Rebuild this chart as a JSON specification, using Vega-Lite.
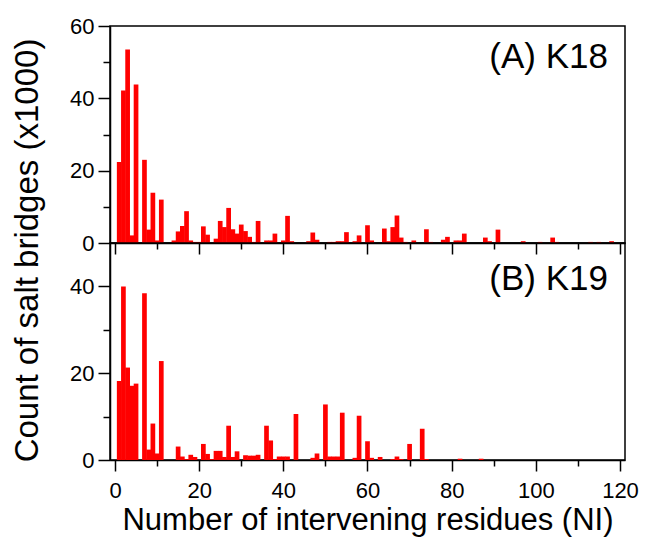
{
  "$schema": "https://vega.github.io/schema/vega-lite/v6.json",
  "autosize": {"type": "none"},
  "padding": {"left": 110, "top": 26, "right": 535, "bottom": 515},
  "bounds": "flush",
  "spacing": 0,
  "background": "white",
  "config": {
    "font": "Liberation Sans",
    "view": {"stroke": "#000", "strokeWidth": 1.5},
    "axis": {
      "domainColor": "#000", "domainWidth": 1.5,
      "tickColor": "#000", "tickWidth": 1.5,
      "labelColor": "#000", "titleColor": "#000",
      "labelFont": "Liberation Sans", "titleFont": "Liberation Sans",
      "labelFontSize": 22, "titleFontSize": 31, "titleFontWeight": "normal",
      "grid": false
    }
  },
  "datasets": {
    "k18": [
      {"NI": 1, "count": 22.4}, {"NI": 2, "count": 42.2}, {"NI": 3, "count": 53.5}, {"NI": 4, "count": 2.1},
      {"NI": 5, "count": 43.8}, {"NI": 7, "count": 23}, {"NI": 8, "count": 3.7}, {"NI": 9, "count": 13.9},
      {"NI": 10, "count": 0.7}, {"NI": 11, "count": 12}, {"NI": 14, "count": 0.7}, {"NI": 15, "count": 3.2},
      {"NI": 16, "count": 4.7}, {"NI": 17, "count": 8.8}, {"NI": 18, "count": 0.7}, {"NI": 19, "count": 0.3},
      {"NI": 20, "count": 0.3}, {"NI": 21, "count": 4.6}, {"NI": 22, "count": 2.3}, {"NI": 24, "count": 1.2},
      {"NI": 25, "count": 6.1}, {"NI": 26, "count": 4.4}, {"NI": 27, "count": 9.7}, {"NI": 28, "count": 3.8},
      {"NI": 29, "count": 2.6}, {"NI": 30, "count": 5.1}, {"NI": 31, "count": 3.3}, {"NI": 32, "count": 1.7},
      {"NI": 33, "count": 0.3}, {"NI": 34, "count": 6.1}, {"NI": 36, "count": 0.7}, {"NI": 37, "count": 0.7},
      {"NI": 38, "count": 2.6}, {"NI": 40, "count": 0.7}, {"NI": 41, "count": 7.5}, {"NI": 42, "count": 0.5},
      {"NI": 46, "count": 0.5}, {"NI": 47, "count": 2.9}, {"NI": 48, "count": 0.9}, {"NI": 51, "count": 0.3},
      {"NI": 52, "count": 0.3}, {"NI": 53, "count": 0.5}, {"NI": 54, "count": 0.5}, {"NI": 55, "count": 3.0},
      {"NI": 57, "count": 0.5}, {"NI": 58, "count": 2.1}, {"NI": 60, "count": 4.9}, {"NI": 61, "count": 0.7},
      {"NI": 64, "count": 4.0}, {"NI": 65, "count": 0.5}, {"NI": 66, "count": 4.4}, {"NI": 67, "count": 7.6},
      {"NI": 68, "count": 1.5}, {"NI": 69, "count": 0.3}, {"NI": 71, "count": 0.7}, {"NI": 74, "count": 3.8},
      {"NI": 75, "count": 0.3}, {"NI": 78, "count": 0.9}, {"NI": 79, "count": 1.7}, {"NI": 81, "count": 0.7},
      {"NI": 82, "count": 0.7}, {"NI": 83, "count": 2.6}, {"NI": 88, "count": 1.5}, {"NI": 89, "count": 0.5},
      {"NI": 91, "count": 3.7}, {"NI": 97, "count": 0.5}, {"NI": 101, "count": 0.3}, {"NI": 104, "count": 1.5},
      {"NI": 105, "count": 0.3}, {"NI": 113, "count": 0.3}, {"NI": 115, "count": 0.3}, {"NI": 118, "count": 0.5}
    ],
    "k19": [
      {"NI": 1, "count": 18.2}, {"NI": 2, "count": 40.0}, {"NI": 3, "count": 21.3}, {"NI": 4, "count": 17.1},
      {"NI": 5, "count": 17.6}, {"NI": 7, "count": 38.4}, {"NI": 8, "count": 2.4}, {"NI": 9, "count": 8.4},
      {"NI": 10, "count": 1.5}, {"NI": 11, "count": 22.8}, {"NI": 15, "count": 3.1}, {"NI": 16, "count": 0.8},
      {"NI": 17, "count": 0.2}, {"NI": 18, "count": 1.2}, {"NI": 19, "count": 0.7}, {"NI": 21, "count": 3.7},
      {"NI": 22, "count": 1.4}, {"NI": 23, "count": 0.2}, {"NI": 24, "count": 2.1}, {"NI": 25, "count": 2.1},
      {"NI": 26, "count": 0.7}, {"NI": 27, "count": 7.9}, {"NI": 28, "count": 0.7}, {"NI": 29, "count": 2.0},
      {"NI": 31, "count": 1.1}, {"NI": 32, "count": 1.0}, {"NI": 33, "count": 1.0}, {"NI": 34, "count": 1.2},
      {"NI": 36, "count": 7.9}, {"NI": 37, "count": 4.5}, {"NI": 38, "count": 0.2}, {"NI": 39, "count": 0.8},
      {"NI": 40, "count": 0.8}, {"NI": 41, "count": 0.8}, {"NI": 43, "count": 10.6}, {"NI": 47, "count": 0.5},
      {"NI": 48, "count": 1.5}, {"NI": 50, "count": 12.8}, {"NI": 51, "count": 0.8}, {"NI": 52, "count": 0.8},
      {"NI": 53, "count": 0.8}, {"NI": 54, "count": 10.9}, {"NI": 57, "count": 0.5}, {"NI": 58, "count": 10.2},
      {"NI": 60, "count": 4.3}, {"NI": 61, "count": 0.5}, {"NI": 63, "count": 0.7}, {"NI": 66, "count": 0.2},
      {"NI": 67, "count": 0.8}, {"NI": 68, "count": 0.2}, {"NI": 70, "count": 3.7}, {"NI": 73, "count": 7.2},
      {"NI": 74, "count": 0.2}, {"NI": 82, "count": 0.3}, {"NI": 87, "count": 0.3}
    ]
  },
  "vconcat": [
    {
      "width": 515,
      "height": 217,
      "data": {"name": "k18"},
      "title": {"text": "(A) K18", "anchor": "end", "orient": "top", "frame": "group", "offset": -42, "dy": 46, "baseline": "alphabetic", "dx": -17, "fontSize": 35, "fontWeight": "normal", "font": "Liberation Sans", "color": "#000"},
      "mark": {"type": "bar", "color": "#ff0000", "width": 4.7},
      "encoding": {
        "x": {
          "field": "NI", "type": "quantitative",
          "scale": {"domain": [0, 120], "nice": false},
          "axis": {
            "values": [0, 10, 20, 30, 40, 50, 60, 70, 80, 90, 100, 110, 120],
            "labels": false, "title": null,
            "tickSize": {"condition": {"test": "datum.value % 20 === 0", "value": 11}, "value": 6}
          }
        },
        "y": {
          "field": "count", "type": "quantitative",
          "scale": {"domain": [0, 60], "nice": false},
          "axis": {
            "values": [0, 10, 20, 30, 40, 50, 60],
            "labelExpr": "datum.value % 20 === 0 ? datum.label : ''",
            "tickSize": {"condition": {"test": "datum.value % 20 === 0", "value": 12}, "value": 7},
            "labelPadding": 4,
            "title": "Count of salt bridges (x1000)",
            "titleFontSize": 33,
            "titleY": 224,
            "titlePadding": 25
          }
        }
      }
    },
    {
      "width": 515,
      "height": 217,
      "data": {"name": "k19"},
      "title": {"text": "(B) K19", "anchor": "end", "orient": "top", "frame": "group", "offset": -50, "dy": 32, "baseline": "alphabetic", "dx": -17, "fontSize": 35, "fontWeight": "normal", "font": "Liberation Sans", "color": "#000"},
      "mark": {"type": "bar", "color": "#ff0000", "width": 4.7},
      "encoding": {
        "x": {
          "field": "NI", "type": "quantitative",
          "scale": {"domain": [0, 120], "nice": false},
          "axis": {
            "values": [0, 10, 20, 30, 40, 50, 60, 70, 80, 90, 100, 110, 120],
            "labelExpr": "datum.value % 20 === 0 ? datum.label : ''",
            "tickSize": {"condition": {"test": "datum.value % 20 === 0", "value": 11}, "value": 6},
            "labelPadding": 9,
            "title": "Number of intervening residues (NI)",
            "titlePadding": 4
          }
        },
        "y": {
          "field": "count", "type": "quantitative",
          "scale": {"domain": [0, 50], "nice": false},
          "axis": {
            "values": [0, 10, 20, 30, 40],
            "labelExpr": "datum.value % 20 === 0 ? datum.label : ''",
            "tickSize": {"condition": {"test": "datum.value % 20 === 0", "value": 12}, "value": 7},
            "labelPadding": 4,
            "title": null
          }
        }
      }
    }
  ]
}
